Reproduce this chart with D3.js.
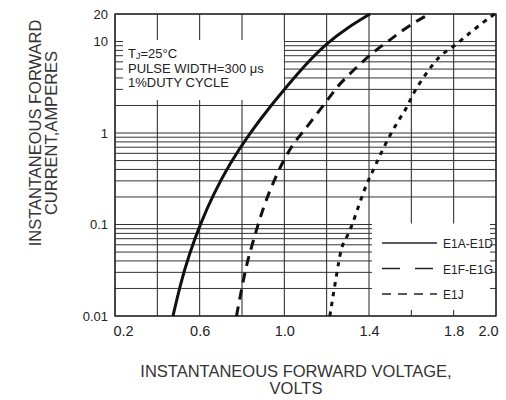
<!DOCTYPE html>
<html>
<head>
<meta charset="utf-8">
<script src="https://cdn.jsdelivr.net/npm/d3@7"></script>
<style>
  html, body { margin: 0; padding: 0; background: #fff; }
  svg { display: block; font-family: 'Liberation Sans', Arial, sans-serif; }
</style>
</head>
<body>
<svg id="chart" width="506" height="400"></svg>
<script>
// Forward characteristics: [volts, amperes]
const e1aE1d = [[0.474, 0.01], [0.509, 0.0224], [0.551, 0.0476], [0.6025, 0.101], [0.665, 0.215],
  [0.741, 0.458], [0.833, 0.975], [0.942, 2.075], [1.010, 3.18], [1.088, 5.26], [1.2, 9.63],
  [1.296, 14.06], [1.405, 20]];
const e1fE1g = [[0.774, 0.01], [0.814, 0.031], [0.838, 0.050], [0.871, 0.092], [0.909, 0.176],
  [0.972, 0.394], [1.036, 0.739], [1.088, 1.025], [1.149, 1.57], [1.211, 2.41], [1.263, 3.52],
  [1.343, 5.26], [1.419, 7.68], [1.499, 10.4], [1.579, 14.4], [1.674, 19.5], [1.69, 20]];
const e1j = [[1.215, 0.01], [1.263, 0.0488], [1.277, 0.0628], [1.31, 0.0828], [1.357, 0.176],
  [1.39, 0.284], [1.414, 0.365], [1.452, 0.575], [1.499, 0.95], [1.546, 1.46], [1.579, 1.88],
  [1.608, 2.74], [1.674, 4.64], [1.735, 7.12], [1.797, 8.71], [1.853, 11.2], [1.91, 14.4],
  [1.986, 19.5], [1.995, 20]];

const seriesNames = ['E1A-E1D', 'E1F-E1G', 'E1J'];
const xTicks = [0.2, 0.6, 1.0, 1.4, 1.8, 2.0];
const yTicks = [0.01, 0.1, 1, 10, 20];
const noteLines = ['PULSE WIDTH=300 \u03bcs', '1%DUTY CYCLE'];

const svg = d3.select('#chart');

const x = d3.scaleLinear().domain([0.2, 2.0]).range([115, 496]);
const y = d3.scaleLog().domain([0.01, 20]).range([316, 14]);

const [x0, x1] = x.range();
const [y0, y1] = y.range();

// grid
const vLines = d3.range(0, 10).map(i => 0.2 + i * 0.2);
const hLines = [];
[-2, -1, 0, 1].forEach(d => {
  for (let k = 1; k <= 9; k++) {
    const v = k * Math.pow(10, d);
    if (v <= 20) hLines.push(v);
  }
});

const grid = svg.append('g').attr('class', 'grid');
grid.selectAll('.v').data(vLines).enter().append('line')
  .attr('x1', d => x(d)).attr('x2', d => x(d))
  .attr('y1', y1).attr('y2', y0)
  .attr('stroke', '#222').attr('stroke-width', 1);
grid.selectAll('.h').data(hLines).enter().append('line')
  .attr('x1', x0).attr('x2', x1)
  .attr('y1', d => y(d)).attr('y2', d => y(d))
  .attr('stroke', '#333').attr('stroke-width', 1);

// white boxes for the note and legend (grid only shows as edge ticks)
svg.append('rect')
  .attr('x', 123).attr('y', y(10) - 1.5)
  .attr('width', x(1.0) - 123 - 0.5).attr('height', 100 - y(10) + 1.5)
  .attr('fill', '#fff');
svg.append('rect')
  .attr('x', 372).attr('y', y(0.1) - 1)
  .attr('width', x1 - 6 - 372).attr('height', y0 - 6 - y(0.1) + 1)
  .attr('fill', '#fff');

// frame
svg.append('rect')
  .attr('x', x0).attr('y', y1)
  .attr('width', x1 - x0).attr('height', y0 - y1)
  .attr('fill', 'none').attr('stroke', '#222').attr('stroke-width', 1.3);

// axes
const xAxis = svg.append('g')
  .attr('transform', `translate(0,${y0})`)
  .call(d3.axisBottom(x).tickValues(xTicks).tickSize(0).tickPadding(10).tickFormat(d3.format('.1f')));
xAxis.select('.domain').remove();
xAxis.selectAll('text')
  .attr('fill', '#222')
  .style('font-size', '14.5px')
  .attr('dx', d => d === 0.2 ? 8 : d === 2.0 ? -8 : 0);

const yAxis = svg.append('g')
  .attr('transform', `translate(${x0},0)`)
  .call(d3.axisLeft(y).tickValues(yTicks).tickSize(0).tickPadding(7).tickFormat(d => String(d)));
yAxis.select('.domain').remove();
yAxis.selectAll('text').attr('fill', '#222').style('font-size', '13px');

// curves
const line = d3.line()
  .x(d => x(d[0]))
  .y(d => y(d[1]))
  .curve(d3.curveBasis);

const styles = [
  { data: e1aE1d, dash: null },
  { data: e1fE1g, dash: '10,7' },
  { data: e1j, dash: '4.5,5.5' }
];

svg.append('g').selectAll('path').data(styles).enter().append('path')
  .attr('d', d => line(d.data))
  .attr('fill', 'none')
  .attr('stroke', '#111')
  .attr('stroke-width', 3)
  .attr('stroke-dasharray', d => d.dash);

// legend
const legendDash = [null, '18,15', '9,7'];
const legend = svg.append('g');
seriesNames.forEach((name, i) => {
  const ly = 243 + i * 25.5;
  legend.append('line')
    .attr('x1', 382).attr('x2', 437)
    .attr('y1', ly).attr('y2', ly)
    .attr('stroke', '#222').attr('stroke-width', 1.3)
    .attr('stroke-dasharray', legendDash[i]);
  legend.append('text')
    .attr('x', 443).attr('y', ly + 5)
    .attr('fill', '#222')
    .style('font-size', '12px')
    .text(name);
});

// test conditions note
const note = svg.append('g').attr('fill', '#222').style('font-size', '13px');
const tj = note.append('text').attr('x', 128).attr('y', 57.5);
tj.append('tspan').text('T');
tj.append('tspan').attr('dy', 1.5).style('font-size', '9px').text('J');
tj.append('tspan').attr('dy', -1.5).text('=25\u00b0C');
noteLines.forEach((t, i) => {
  note.append('text')
    .attr('x', 128).attr('y', 72.5 + i * 14.5)
    .text(t);
});

// axis titles
const xTitle = svg.append('text')
  .attr('text-anchor', 'middle')
  .attr('fill', '#333')
  .style('font-size', '16.5px');
xTitle.append('tspan').attr('x', 296).attr('y', 377).text('INSTANTANEOUS FORWARD VOLTAGE,');
xTitle.append('tspan').attr('x', 296).attr('y', 394).text('VOLTS');

const yTitle = svg.append('text')
  .attr('text-anchor', 'middle')
  .attr('fill', '#333')
  .style('font-size', '16.5px')
  .attr('transform', 'translate(0,133) rotate(-90)');
yTitle.append('tspan').attr('x', 0).attr('y', 41).text('INSTANTANEOUS FORWARD');
yTitle.append('tspan').attr('x', 0).attr('y', 57).text('CURRENT,AMPERES');
</script>
</body>
</html>
